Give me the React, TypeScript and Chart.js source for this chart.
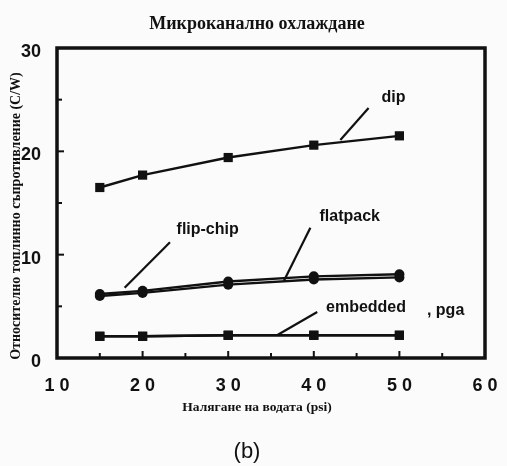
import React, { useEffect, useRef } from "react";
import { Chart, registerables } from "chart.js";

Chart.register(...registerables);

const pressure = [15, 20, 30, 40, 50];
const dipValues = [16.5, 17.7, 19.4, 20.6, 21.5];
const flatpackValues = [6.2, 6.5, 7.4, 7.9, 8.1];
const flipChipValues = [6.0, 6.3, 7.1, 7.6, 7.8];
const embeddedValues = [2.1, 2.1, 2.2, 2.2, 2.2];
const pgaValues = [2.1, 2.1, 2.2, 2.2, 2.2];

const chartTitle = "Микроканално охлаждане";
const xTitle = "Налягане на водата (psi)";
const yTitle = "Относително топлинно съпротивление (C/W)";
const caption = "(b)";

// series labels: text, label position (data units), leader line from/to (data units)
const labelTexts = ["dip", "flip-chip", "flatpack", "embedded", ", pga"];
const labelX = [49.3, 27.6, 44.2, 46.1, 55.4];
const labelY = [25.2, 12.4, 13.65, 4.84, 4.55];
const leaderFromX = [46.4, 23.2, 39.6, 40.4, NaN];
const leaderFromY = [24.2, 11.2, 12.6, 4.45, NaN];
const leaderToX = [43.1, 17.9, 36.5, 35.7, NaN];
const leaderToY = [21.1, 6.8, 7.45, 2.2, NaN];

const INK = "#111";

const toPoints = (vals: number[]) => pressure.map((x, i) => ({ x, y: vals[i] }));

const decorPlugin = {
  id: "decor",
  beforeDraw(chart: any) {
    const ctx = chart.ctx;
    ctx.save();
    ctx.fillStyle = "#fbfbfb";
    ctx.fillRect(0, 0, chart.width, chart.height);
    ctx.restore();
  },
  afterDraw(chart: any) {
    const ctx = chart.ctx;
    const { left, right, top, bottom } = chart.chartArea;
    const xs = chart.scales.x;
    const ys = chart.scales.y;
    ctx.save();
    // frame
    ctx.strokeStyle = INK;
    ctx.lineWidth = 3.5;
    ctx.strokeRect(left, top, right - left, bottom - top);
    // inward ticks
    ctx.lineWidth = 2;
    for (let v = 15; v < 60; v += 5) {
      const px = xs.getPixelForValue(v);
      const len = v % 10 === 0 ? 7 : 5;
      ctx.beginPath();
      ctx.moveTo(px, bottom);
      ctx.lineTo(px, bottom - len);
      ctx.stroke();
    }
    for (let v = 5; v < 30; v += 5) {
      const py = ys.getPixelForValue(v);
      const len = v % 10 === 0 ? 7 : 5;
      ctx.beginPath();
      ctx.moveTo(left, py);
      ctx.lineTo(left + len, py);
      ctx.stroke();
    }
    // leader lines
    ctx.lineWidth = 2.2;
    for (let i = 0; i < labelTexts.length; i++) {
      if (isNaN(leaderFromX[i])) continue;
      ctx.beginPath();
      ctx.moveTo(xs.getPixelForValue(leaderFromX[i]), ys.getPixelForValue(leaderFromY[i]));
      ctx.lineTo(xs.getPixelForValue(leaderToX[i]), ys.getPixelForValue(leaderToY[i]));
      ctx.stroke();
    }
    // series labels
    ctx.fillStyle = INK;
    ctx.textAlign = "center";
    ctx.textBaseline = "middle";
    ctx.font = "bold 16px 'Liberation Sans', Arial, sans-serif";
    for (let i = 0; i < labelTexts.length; i++) {
      ctx.fillText(labelTexts[i], xs.getPixelForValue(labelX[i]), ys.getPixelForValue(labelY[i]));
    }
    // chart title
    ctx.font = "bold 18px 'Liberation Serif', 'DejaVu Serif', serif";
    ctx.fillText(chartTitle, (left + right) / 2 - 14, 24);
    // x title
    ctx.font = "bold 13.5px 'Liberation Serif', 'DejaVu Serif', serif";
    ctx.fillText(xTitle, (left + right) / 2 - 14, 408);
    // caption
    ctx.font = "22px 'Liberation Sans', Arial, sans-serif";
    ctx.fillText(caption, (left + right) / 2 - 24, 452);
    // y title
    ctx.save();
    ctx.translate(16, (top + bottom) / 2 + 13);
    ctx.rotate(-Math.PI / 2);
    ctx.font = "bold 14px 'Liberation Serif', 'DejaVu Serif', serif";
    ctx.fillText(yTitle, 0, 0);
    ctx.restore();
    ctx.restore();
  },
};

export default function App() {
  const ref = useRef<HTMLCanvasElement | null>(null);
  useEffect(() => {
    if (!ref.current) return;
    const common = {
      borderColor: INK,
      backgroundColor: INK,
      borderWidth: 2.4,
      pointBorderWidth: 0,
      showLine: true,
      tension: 0,
    };
    const chart = new Chart(ref.current, {
      type: "scatter",
      data: {
        datasets: [
          { label: "dip", data: toPoints(dipValues), pointStyle: "rect", pointRadius: 6.5, ...common },
          { label: "flatpack", data: toPoints(flatpackValues), pointStyle: "circle", pointRadius: 5, ...common },
          { label: "flip-chip", data: toPoints(flipChipValues), pointStyle: "circle", pointRadius: 5, ...common },
          { label: "embedded", data: toPoints(embeddedValues), pointStyle: "rect", pointRadius: 6.5, ...common },
          { label: "pga", data: toPoints(pgaValues), pointStyle: "rect", pointRadius: 6.5, ...common },
        ],
      },
      options: {
        responsive: false,
        animation: false,
        layout: { padding: { top: 48, right: 22, left: 0, bottom: 0 } },
        plugins: {
          legend: { display: false },
          title: { display: false },
          tooltip: { enabled: false },
        },
        scales: {
          x: {
            type: "linear",
            min: 10,
            max: 60,
            grid: { display: false },
            border: { display: false },
            ticks: {
              stepSize: 10,
              maxRotation: 0,
              autoSkip: false,
              padding: 9,
              color: INK,
              font: { family: "'Liberation Sans', Arial, sans-serif", size: 18, weight: "bold" },
              callback: (v: any) => String(v).split("").join(" "),
            },
            afterFit: (s: any) => {
              s.height = 108;
            },
          },
          y: {
            type: "linear",
            min: 0,
            max: 30,
            grid: { display: false },
            border: { display: false },
            ticks: {
              stepSize: 10,
              padding: 8,
              labelOffset: 4,
              color: INK,
              font: { family: "'Liberation Sans', Arial, sans-serif", size: 18, weight: "bold" },
            },
            afterFit: (s: any) => {
              s.width = 57;
            },
          },
        },
      },
      plugins: [decorPlugin],
    } as any);
    return () => chart.destroy();
  }, []);
  return (
    <div style={{ position: "absolute", left: 0, top: 0, width: 507, height: 466 }}>
      <canvas ref={ref} width={507} height={466} style={{ display: "block" }} />
    </div>
  );
}
